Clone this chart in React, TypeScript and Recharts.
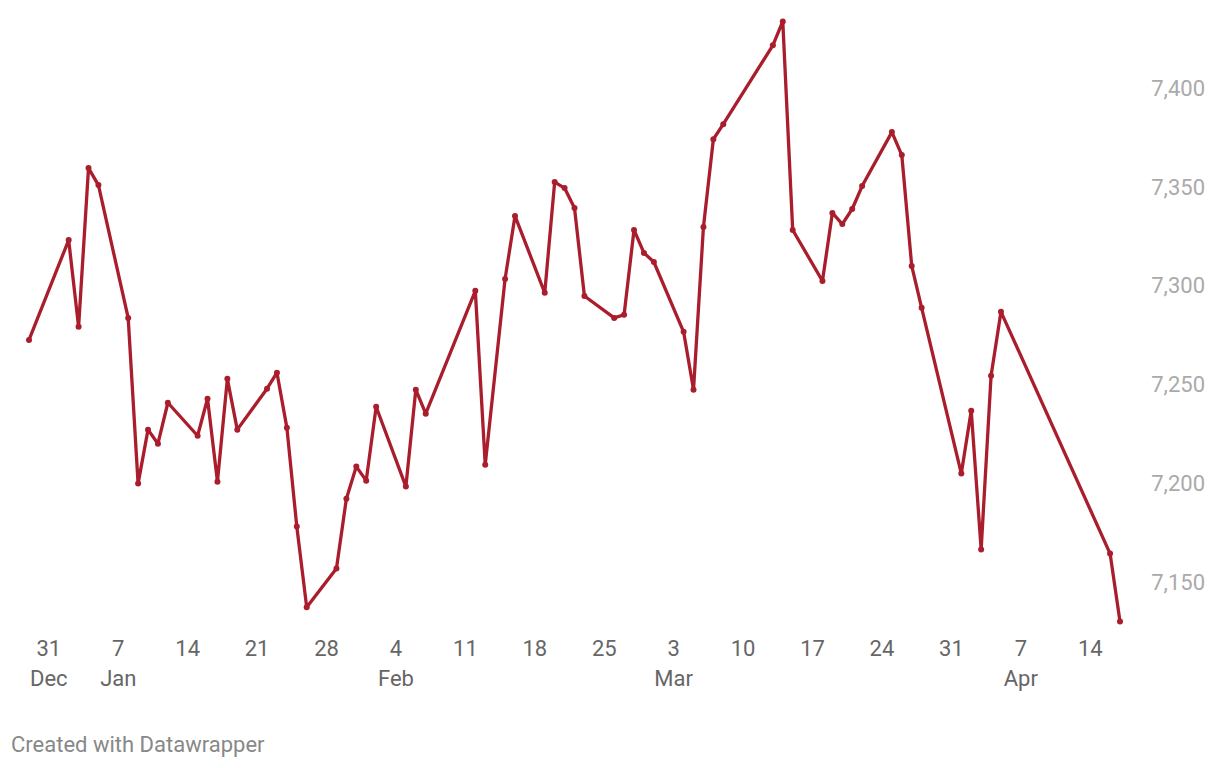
import React from "react";
import { LineChart, Line, XAxis, YAxis } from "recharts";

const dates: string[] = [
  "2023-12-29", "2024-01-02", "2024-01-03", "2024-01-04", "2024-01-05",
  "2024-01-08", "2024-01-09", "2024-01-10", "2024-01-11", "2024-01-12",
  "2024-01-15", "2024-01-16", "2024-01-17", "2024-01-18", "2024-01-19",
  "2024-01-22", "2024-01-23", "2024-01-24", "2024-01-25", "2024-01-26",
  "2024-01-29", "2024-01-30", "2024-01-31", "2024-02-01", "2024-02-02",
  "2024-02-05", "2024-02-06", "2024-02-07", "2024-02-12", "2024-02-13",
  "2024-02-15", "2024-02-16", "2024-02-19", "2024-02-20", "2024-02-21",
  "2024-02-22", "2024-02-23", "2024-02-26", "2024-02-27", "2024-02-28",
  "2024-02-29", "2024-03-01", "2024-03-04", "2024-03-05", "2024-03-06",
  "2024-03-07", "2024-03-08", "2024-03-13", "2024-03-14", "2024-03-15",
  "2024-03-18", "2024-03-19", "2024-03-20", "2024-03-21", "2024-03-22",
  "2024-03-25", "2024-03-26", "2024-03-27", "2024-03-28", "2024-04-01",
  "2024-04-02", "2024-04-03", "2024-04-04", "2024-04-05", "2024-04-16",
  "2024-04-17",
];

const values: number[] = [
  7272.7, 7323.2, 7279.3, 7359.6, 7351.0,
  7283.8, 7200.0, 7227.3, 7220.2, 7240.9,
  7224.2, 7242.9, 7201.0, 7253.0, 7227.3,
  7248.0, 7256.1, 7228.3, 7178.3, 7137.4,
  7157.1, 7192.4, 7208.6, 7201.5, 7238.9,
  7198.5, 7247.5, 7235.4, 7297.5, 7209.6,
  7303.5, 7335.4, 7296.5, 7352.5, 7349.5,
  7339.4, 7294.9, 7283.8, 7285.4, 7328.3,
  7316.7, 7312.1, 7276.8, 7247.5, 7329.8,
  7374.2, 7381.8, 7421.7, 7433.8, 7328.3,
  7302.5, 7336.9, 7331.3, 7338.9, 7350.5,
  7377.8, 7366.2, 7310.1, 7288.9, 7205.1,
  7236.9, 7166.7, 7254.5, 7286.9, 7164.6,
  7130.3,
];

const tickDates: string[] = [
  "2023-12-31", "2024-01-07", "2024-01-14", "2024-01-21", "2024-01-28",
  "2024-02-04", "2024-02-11", "2024-02-18", "2024-02-25", "2024-03-03",
  "2024-03-10", "2024-03-17", "2024-03-24", "2024-03-31", "2024-04-07",
  "2024-04-14",
];
const tickDayLabels: string[] = [
  "31", "7", "14", "21", "28", "4", "11", "18", "25", "3", "10", "17", "24", "31", "7", "14",
];
const tickMonthLabels: string[] = [
  "Dec", "Jan", "", "", "", "Feb", "", "", "", "Mar", "", "", "", "", "Apr", "",
];

const yTicks: number[] = [7150, 7200, 7250, 7300, 7350, 7400];

const ORIGIN = Date.UTC(2023, 11, 31);
const toDay = (s: string): number => {
  const [y, m, d] = s.split("-").map(Number);
  return Math.round((Date.UTC(y, m - 1, d) - ORIGIN) / 86400000);
};

const data = dates.map((d, i) => ({ t: toDay(d), v: values[i] }));
const xTicks = tickDates.map(toDay);

const COLOR = "#aa1d2c";
const FONT = "Roboto, 'Noto Sans', sans-serif";

const XTick = (props: any) => {
  const { x, payload } = props;
  const idx = xTicks.indexOf(payload.value);
  return (
    <g>
      <text x={x} y={656} textAnchor="middle" fontSize={22} fill="#666" fontFamily={FONT}>
        {tickDayLabels[idx]}
      </text>
      {tickMonthLabels[idx] ? (
        <text x={x} y={686} textAnchor="middle" fontSize={22} fill="#666" fontFamily={FONT}>
          {tickMonthLabels[idx]}
        </text>
      ) : null}
    </g>
  );
};

const YTick = (props: any) => {
  const { y, payload } = props;
  return (
    <text x={1205} y={y} textAnchor="end" dominantBaseline="central" fontSize={22} fill="#aaa" fontFamily={FONT}>
      {payload.value.toLocaleString("en-US")}
    </text>
  );
};

export default function App() {
  return (
    <div style={{ position: "absolute", left: 0, top: 0, width: 1220, height: 768, background: "#fff" }}>
      <LineChart width={1220} height={768} data={data} margin={{ top: 21, right: 0, bottom: 0, left: 29 }}>
        <XAxis
          dataKey="t"
          type="number"
          domain={[-2, 108]}
          ticks={xTicks}
          interval={0}
          axisLine={false}
          tickLine={false}
          height={146}
          tick={<XTick />}
        />
        <YAxis
          orientation="right"
          type="number"
          domain={[7130, 7434]}
          ticks={yTicks}
          interval={0}
          axisLine={false}
          tickLine={false}
          width={100}
          tick={<YTick />}
        />
        <Line
          type="linear"
          dataKey="v"
          stroke={COLOR}
          strokeWidth={3.3}
          strokeLinejoin="round"
          dot={{ r: 3, fill: COLOR, stroke: "none" }}
          isAnimationActive={false}
        />
      </LineChart>
      <div
        style={{
          position: "absolute",
          left: 11,
          top: 732,
          fontFamily: FONT,
          fontSize: 22,
          color: "#888",
          whiteSpace: "nowrap",
        }}
      >
        Created with Datawrapper
      </div>
    </div>
  );
}
